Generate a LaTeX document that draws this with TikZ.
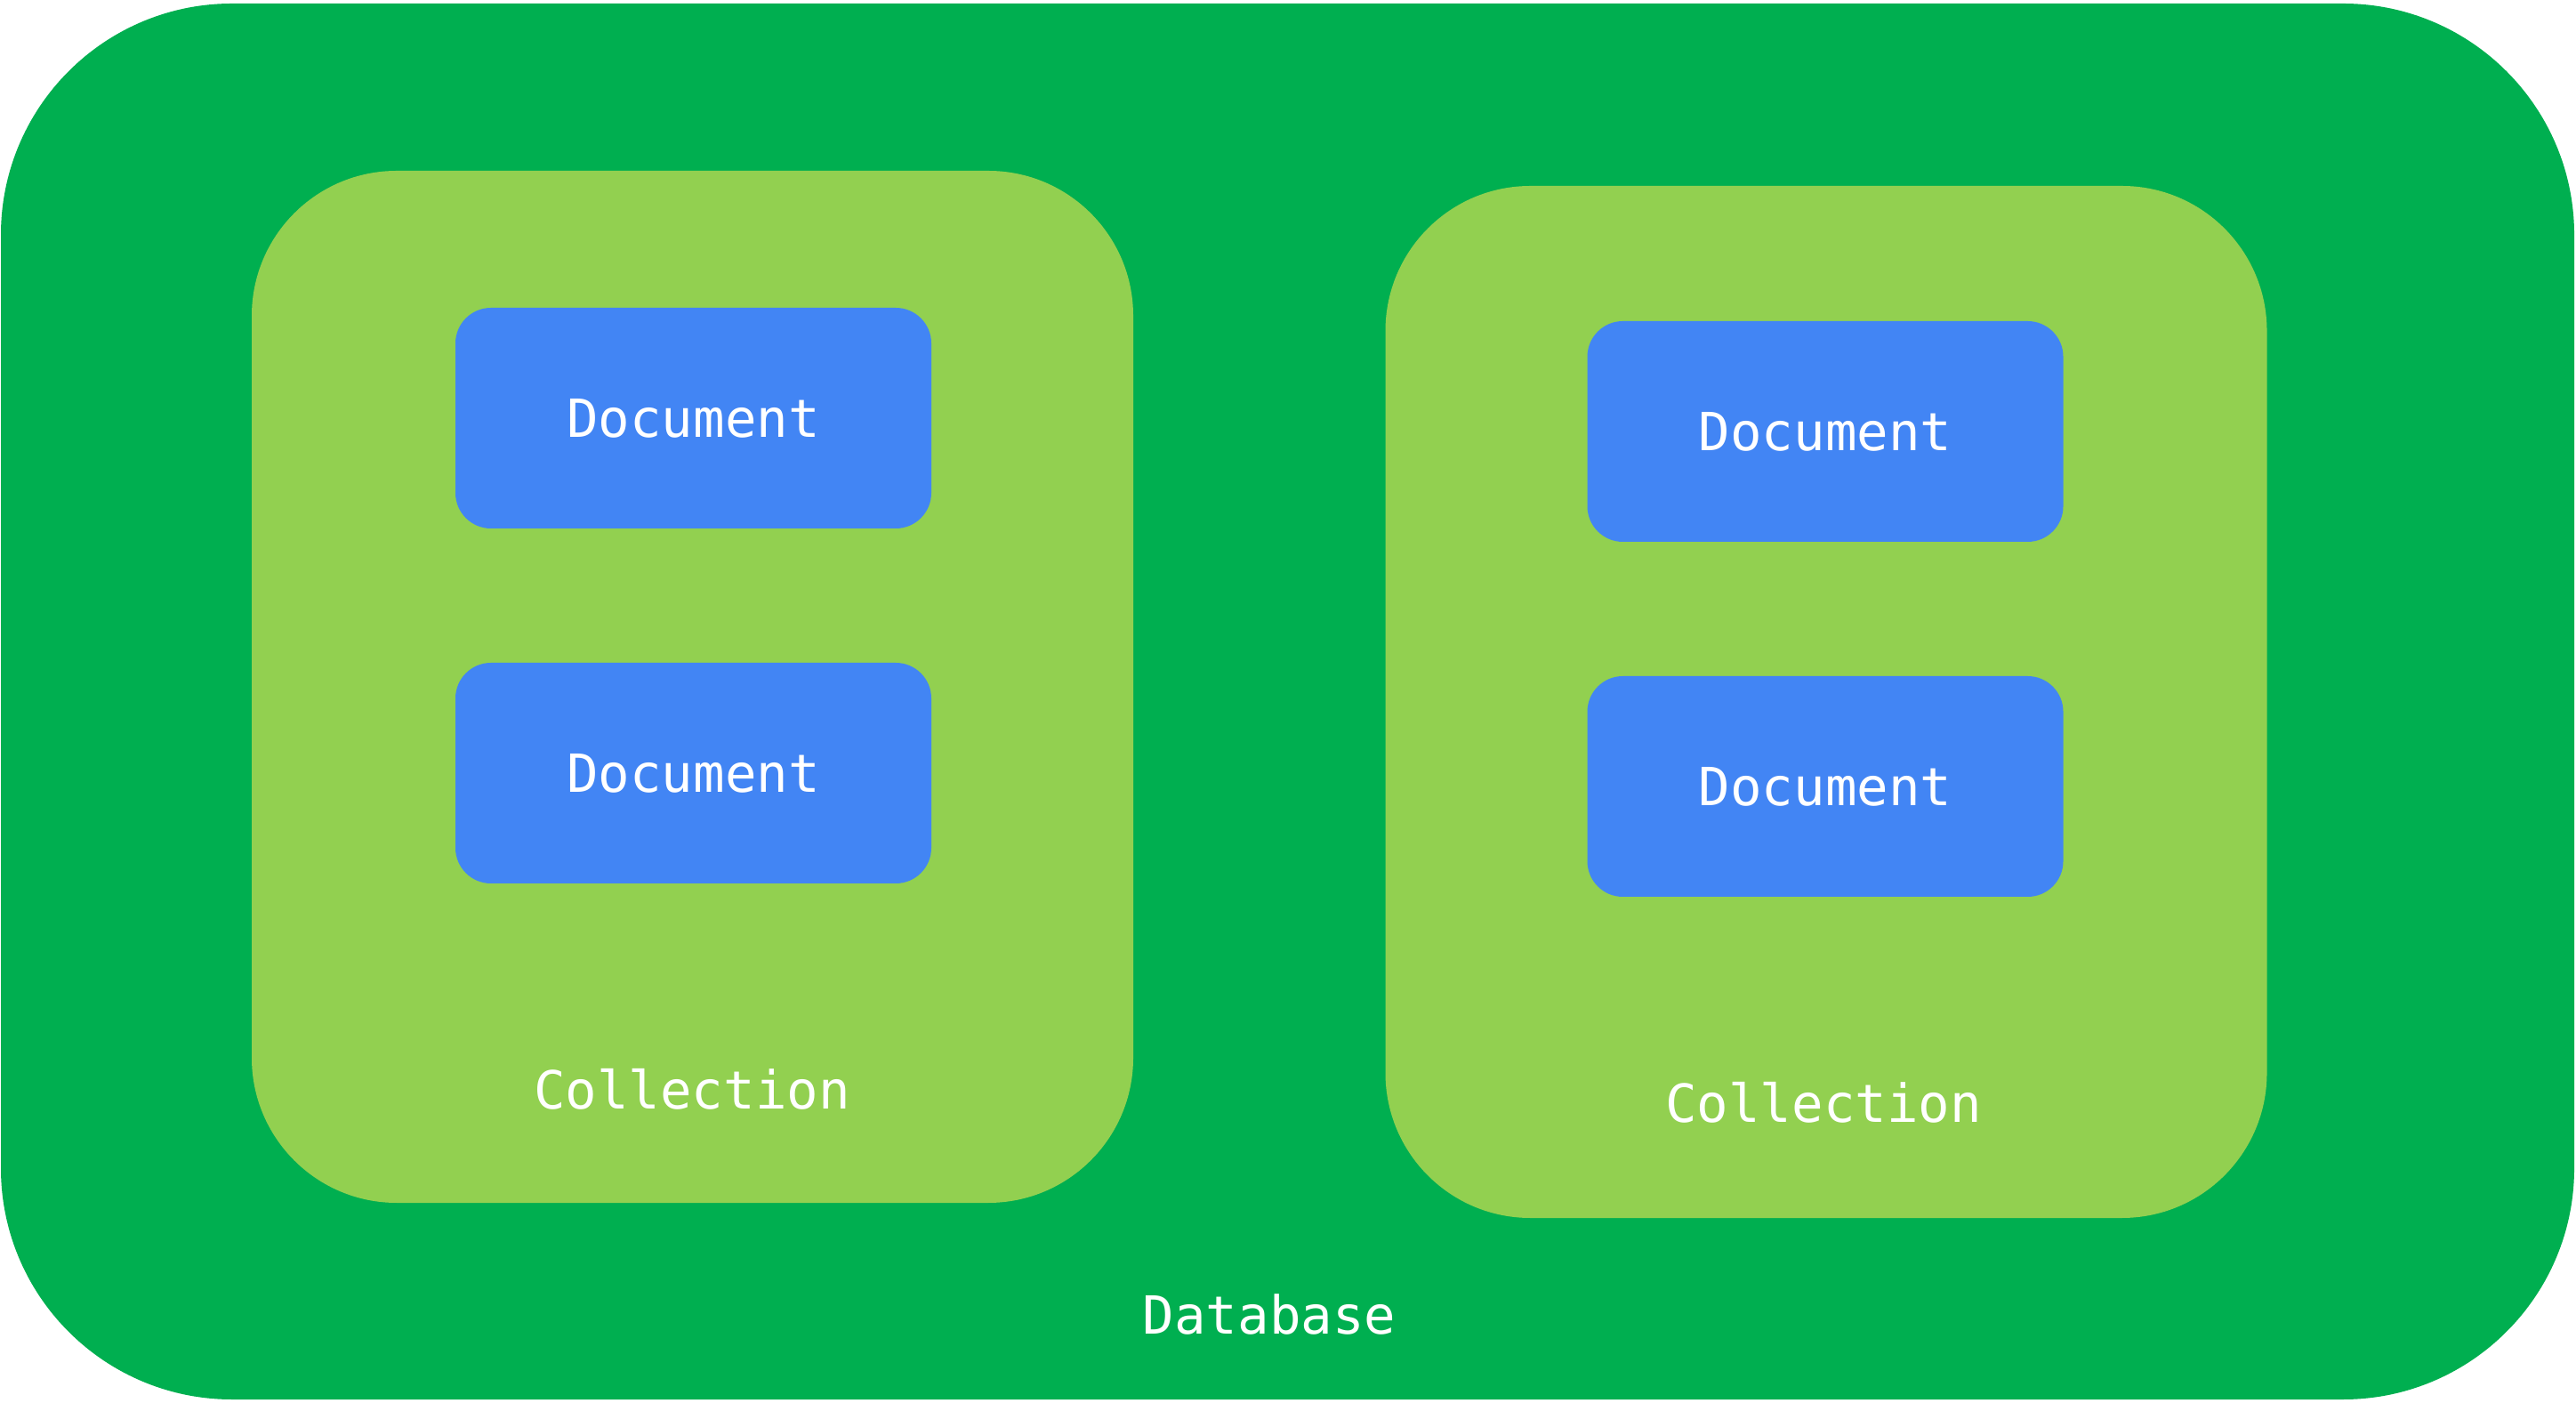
\documentclass[tikz,border=0pt]{standalone}
\usepackage{fontspec}
\newfontfamily\boxfont{DejaVu Sans Mono}
\definecolor{dbgreen}{RGB}{0,175,80}
\definecolor{colgreen}{RGB}{146,208,80}
\definecolor{docblue}{RGB}{66,133,244}
\tikzset{
	dbbox/.style={rectangle,fill=dbgreen,rounded corners=2.6cm,minimum width=28.93cm,minimum height=15.69cm,inner sep=0},
	colbox/.style={rectangle,fill=colgreen,rounded corners=1.63cm,minimum width=9.91cm,minimum height=11.6cm,inner sep=0},
	docbox/.style={rectangle,fill=docblue,rounded corners=0.4cm,minimum width=5.35cm,minimum height=2.48cm,inner sep=0,text=white,font=\boxfont\fontsize{16.8}{20}\selectfont},
	tag/.style={text=white,inner sep=0,font=\boxfont\fontsize{16.8}{20}\selectfont}
}
\begin{document}
\begin{tikzpicture}
	\useasboundingbox(0,0)rectangle(28.96,15.76);
	\node[dbbox](db)at(14.475,7.875){};
	\node[colbox](c1)at(7.785,8.04){};
	\node[colbox](c2)at(20.53,7.87){};
	\node[docbox](d1)at(7.795,11.06){Document};
	\node[docbox](d2)at(7.795,7.07){Document};
	\node[docbox](d3)at(20.52,10.91){Document};
	\node[docbox](d4)at(20.52,6.92){Document};
	\node[tag](c1label)at(7.78,3.52){Collection};
	\node[tag](c2label)at(20.50,3.37){Collection};
	\node[tag](dblabel)at(14.27,0.99){Database};
\end{tikzpicture}
\end{document}
